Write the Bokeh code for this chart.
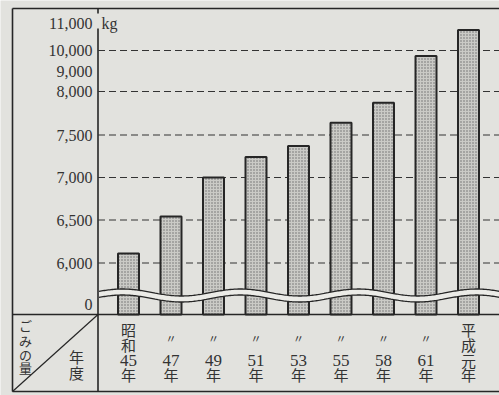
import numpy as np
from bokeh.plotting import figure
from bokeh.models import Range1d, ColumnDataSource
from bokeh.core.properties import value
from bokeh.embed import file_html
from bokeh.resources import INLINE

# ---------------- data ----------------
years = ["昭和45年", "47年", "49年", "51年", "53年", "55年", "58年", "61年", "平成元年"]
year_label_rows = [["昭", "和", "45", "年"], ["〃", "47", "年"], ["〃", "49", "年"],
                   ["〃", "51", "年"], ["〃", "53", "年"], ["〃", "55", "年"],
                   ["〃", "58", "年"], ["〃", "61", "年"], ["平", "成", "元", "年"]]
garbage_kg = [6110, 6540, 7000, 7240, 7370, 7640, 7870, 9730, 10750]
tick_values = [0, 6000, 6500, 7000, 7500, 8000, 9000, 10000, 11000]
tick_labels = ["0", "6,000", "6,500", "7,000", "7,500", "8,000", "9,000", "10,000", "11,000"]
grid_values = [6000, 6500, 7000, 7500, 8000, 10000]
unit_label = "kg"
row_header = ["ご", "み", "の", "量"]
col_header = ["年", "度"]

# ---------------- broken (piecewise) value scale ----------------
W, H = 499, 395
# vertical screen position (from bottom, px) of each tick value on the broken axis
axis_pos = [91.5, 132.5, 175.5, 218.0, 260.5, 304.0, 324.5, 345.0, 372.5]


def vpos(v):
    return np.interp(v, tick_values, axis_pos)


BAR_PITCH = 42.5
X0 = 128.0  # screen x of first category


def X(px):
    return (np.asarray(px, dtype=float) - X0) / BAR_PITCH


def Y(py):
    return H - np.asarray(py, dtype=float)


BG = "#e2e2de"
INK = "#262626"
SERIF = "'DejaVu Serif', 'Liberation Serif', serif"
NUM = "'Liberation Serif', 'DejaVu Serif', serif"
JP = "Noto Sans CJK JP"

p = figure(width=W, height=H, x_range=Range1d(X(0), X(W)), y_range=Range1d(0, H),
           x_axis_type=None, y_axis_type=None, toolbar_location=None,
           output_backend="svg", min_border=0)
p.grid.visible = False
p.outline_line_color = None
p.background_fill_color = BG
p.border_fill_color = BG

# table / frame lines
TOP, TABLE, BOTTOM, LEFT, AXIS = 8, 314, 391, 12, 97.5
p.segment(x0=[X(LEFT), X(LEFT), X(LEFT), X(LEFT)],
          y0=[Y(TOP), Y(TOP), Y(TABLE), Y(BOTTOM)],
          x1=[X(LEFT), X(W), X(W), X(W)],
          y1=[Y(BOTTOM), Y(TOP), Y(TABLE), Y(BOTTOM)],
          line_color=INK, line_width=1.6)
# value axis line (gap around the 11,000 kg label) and table divider
p.segment(x0=[X(AXIS), X(AXIS)], y0=[Y(TOP), Y(28)], x1=[X(AXIS), X(AXIS)], y1=[Y(13), Y(BOTTOM)],
          line_color=INK, line_width=1.6)
# diagonal in header cell
p.segment(x0=[X(LEFT)], y0=[Y(BOTTOM)], x1=[X(AXIS)], y1=[Y(TABLE)], line_color=INK, line_width=1.2)

# dashed gridlines
gy = vpos(grid_values)
p.segment(x0=[X(AXIS)] * len(gy), y0=gy, x1=[X(W)] * len(gy), y1=gy,
          line_color="#333333", line_width=1.2, line_dash="7 4")

# bars
src = ColumnDataSource(dict(x=list(range(len(years))), top=vpos(garbage_kg), year=years,
                            kg=garbage_kg))
p.vbar(x="x", top="top", bottom=float(Y(TABLE)), width=21 / BAR_PITCH, source=src,
       fill_color="#cacac6", hatch_pattern="dot", hatch_color="#6a6a6a", hatch_scale=3,
       hatch_weight=1, line_color=INK, line_width=2)

# wavy break band
wx = np.linspace(AXIS + 1, W, 300)
up = 292 - 3.5 * np.cos(2 * np.pi * (wx - 122) / 118)
lo = up + 6
p.patch(x=np.concatenate([X(wx), X(wx[::-1])]), y=np.concatenate([Y(up), Y(lo[::-1])]),
        fill_color="#ebebe7", line_color=None)
p.line(X(wx), Y(up), line_color=INK, line_width=1.3)
p.line(X(wx), Y(lo), line_color=INK, line_width=1.3)

# tick labels of the value axis
p.text(x=[X(92)] * len(tick_values), y=vpos(tick_values), text=tick_labels,
       text_font=value(NUM), text_font_size="16px", text_color="#333333",
       text_align="right", text_baseline="middle")
p.text(x=[X(101)], y=[vpos(tick_values[-1])], text=[unit_label], text_font=value(NUM),
       text_font_size="16px", text_color="#333333", text_align="left", text_baseline="middle")

# category labels (vertical writing)
lx, ly, lt, lf, ls = [], [], [], [], []
for i, rows in enumerate(year_label_rows):
    ys = [329, 344, 360, 374] if len(rows) == 4 else [337, 360, 374]
    for r, yy in zip(rows, ys):
        lx.append(i)
        ly.append(float(Y(yy)))
        lt.append(r)
        is_num = r.isdigit()
        lf.append(NUM if is_num else JP)
        ls.append("17px" if is_num else ("11px" if r == "〃" else "15px"))
p.text(x="x", y="y", text="t", text_font="f", text_font_size="s",
       source=ColumnDataSource(dict(x=lx, y=ly, t=lt, f=lf, s=ls)),
       text_color="#333333", text_align="center", text_baseline="middle")

# header cell texts
p.text(x=[X(25)] * 4, y=Y([325, 340, 354, 367]), text=row_header, text_font=value(JP),
       text_font_size="13px", text_color="#333333", text_align="center", text_baseline="middle")
p.text(x=[X(76)] * 2, y=Y([356, 372]), text=col_header, text_font=value(JP),
       text_font_size="15px", text_color="#333333", text_align="center", text_baseline="middle")

open("out.html", "w").write(file_html(p, INLINE))
